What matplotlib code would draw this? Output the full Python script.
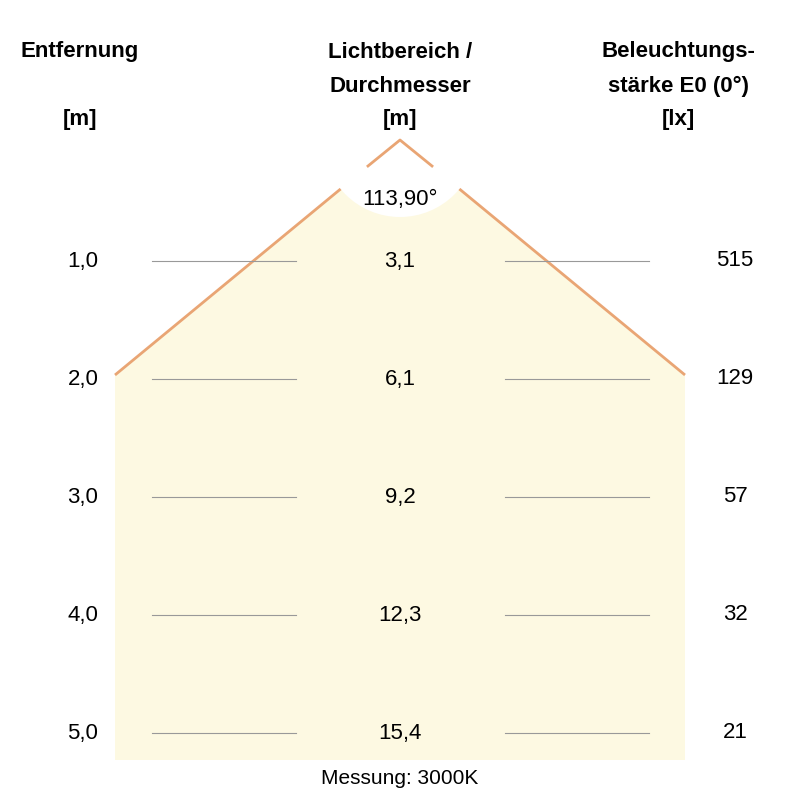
import matplotlib
matplotlib.use("Agg")
import matplotlib.pyplot as plt
import numpy as np
from matplotlib.patches import Polygon, Circle

distances = ["1,0", "2,0", "3,0", "4,0", "5,0"]
diameters = ["3,1", "6,1", "9,2", "12,3", "15,4"]
lux = ["515", "129", "57", "32", "21"]
angle_label = "113,90°"
footer = "Messung: 3000K"

plt.rcParams['font.family'] = ['Liberation Sans', 'DejaVu Sans']
fig = plt.figure(figsize=(8, 8), dpi=100)
ax = fig.add_axes([0, 0, 1, 1])
ax.set_xlim(0, 800); ax.set_ylim(800, 0); ax.axis('off')

apex = (400, 140)
edge = "#E9A574"
fill = "#FDF9E2"
ax.add_patch(Polygon([apex, (115, 375), (115, 760), (685, 760), (685, 375)],
                     closed=True, fc=fill, ec='none', zorder=1))
r = 77
ax.add_patch(Circle(apex, r, fc='white', ec='none', zorder=2))
for ex in (115, 685):
    v = np.array([ex - apex[0], 375 - apex[1]], float)
    u = v / np.linalg.norm(v)
    s = np.array(apex) + u * r
    ax.plot([s[0], ex], [s[1], 375], color=edge, lw=2, zorder=3, solid_capstyle='butt')
ax.plot([368, 400, 432], [166, 140, 166], color=edge, lw=2, zorder=3)

ys = [261, 379, 497, 615, 733]
fs = 16
for y, d, di, lx in zip(ys, distances, diameters, lux):
    ax.plot([152, 296], [y, y], color='#999999', lw=0.8, zorder=3)
    ax.plot([505, 649], [y, y], color='#999999', lw=0.8, zorder=3)
    ax.text(83, y, d, ha='center', va='center', fontsize=fs, zorder=4)
    ax.text(400, y, di, ha='center', va='center', fontsize=fs, zorder=4)
    ax.text(735, y, lx, ha='center', va='center', fontsize=fs, zorder=4)

ax.text(400, 200, angle_label, ha='center', va='center', fontsize=fs, zorder=4)
ax.text(400, 779, footer, ha='center', va='center', fontsize=15, zorder=4)

hk = dict(ha='center', va='center', fontsize=16, fontweight='bold')
ax.text(80, 52, "Entfernung", **hk)
ax.text(80, 120, "[m]", **hk)
ax.text(400, 52, "Lichtbereich /", **hk)
ax.text(400, 86, "Durchmesser", **hk)
ax.text(400, 120, "[m]", **hk)
ax.text(678, 52, "Beleuchtungs-", **hk)
ax.text(678, 86, "stärke E0 (0°)", **hk)
ax.text(678, 120, "[lx]", **hk)

fig.savefig("out.png", dpi=100, facecolor='white')
